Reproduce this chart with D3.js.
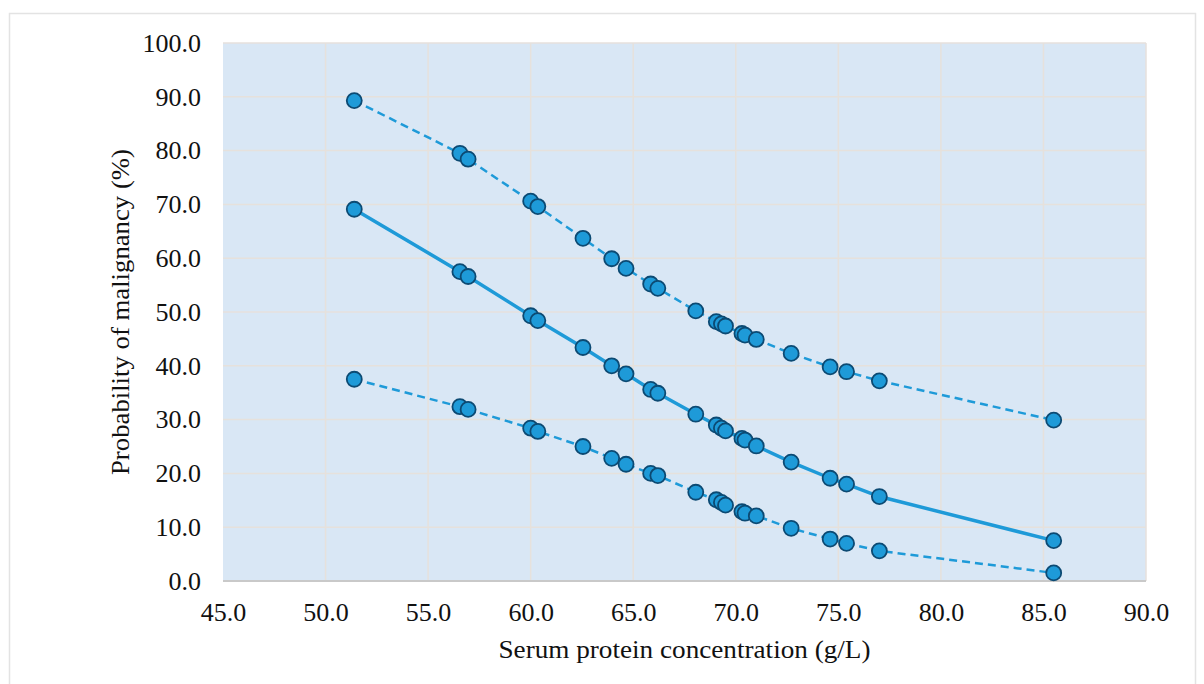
<!DOCTYPE html>
<html>
<head>
<meta charset="utf-8">
<script src="https://cdn.jsdelivr.net/npm/d3@7"></script>
<style>
  body { margin: 0; background: #fff; }
  text { font-family: "Liberation Serif", "Times New Roman", serif; fill: #111; }
</style>
</head>
<body>
<svg id="chart"></svg>
<script>
// serum protein (g/L) for each patient point
const protein = [51.4, 56.55, 56.95, 60.0, 60.35, 62.55, 63.95, 64.65, 65.85, 66.2, 68.05,
  69.05, 69.3, 69.5, 70.3, 70.45, 71.0, 72.7, 74.6, 75.4, 77.0, 85.5];
// predicted probability and 95% band
const upperCI = [89.3, 79.5, 78.4, 70.6, 69.6, 63.7, 59.9, 58.1, 55.2, 54.4, 50.2,
  48.2, 47.8, 47.4, 46.0, 45.7, 44.9, 42.3, 39.8, 38.9, 37.2, 29.9];
const predicted = [69.1, 57.5, 56.6, 49.3, 48.4, 43.4, 40.0, 38.5, 35.6, 34.9, 31.0,
  29.0, 28.4, 27.9, 26.5, 26.2, 25.1, 22.1, 19.1, 18.0, 15.7, 7.5];
const lowerCI = [37.5, 32.4, 31.9, 28.4, 27.8, 25.0, 22.8, 21.7, 20.0, 19.6, 16.5,
  15.1, 14.6, 14.1, 12.9, 12.6, 12.1, 9.8, 7.8, 7.0, 5.6, 1.5];
const xTicks = [45, 50, 55, 60, 65, 70, 75, 80, 85, 90];
const yTicks = [0, 10, 20, 30, 40, 50, 60, 70, 80, 90, 100];

const W = 1204, H = 684;
const margin = { top: 43, right: 58, bottom: 103, left: 223 };
const width = W - margin.left - margin.right;
const height = H - margin.top - margin.bottom;
const fs = 26;

const svg = d3.select("#chart").attr("width", W).attr("height", H);

// outer frame
svg.append("rect")
  .attr("x", 9.5).attr("y", 13.5).attr("width", 1186).attr("height", 700)
  .attr("fill", "none").attr("stroke", "#e3e3e3").attr("stroke-width", 1.5);

const g = svg.append("g").attr("transform", "translate(" + margin.left + "," + margin.top + ")");

const x = d3.scaleLinear().domain([45, 90]).range([0, width]);
const y = d3.scaleLinear().domain([0, 100]).range([height, 0]);

g.append("rect").attr("width", width).attr("height", height).attr("fill", "#d9e7f5");

// gridlines
g.append("g").selectAll("line").data(xTicks.slice(1)).enter().append("line")
  .attr("x1", d => x(d)).attr("x2", d => x(d)).attr("y1", 0).attr("y2", height)
  .attr("stroke", "#e6e1dc").attr("stroke-width", 1.5);
g.append("g").selectAll("line").data(yTicks.slice(1)).enter().append("line")
  .attr("x1", 0).attr("x2", width).attr("y1", d => y(d)).attr("y2", d => y(d))
  .attr("stroke", "#e6e1dc").attr("stroke-width", 1.5);

// bottom axis line
g.append("line").attr("x1", 0).attr("x2", width).attr("y1", height).attr("y2", height)
  .attr("stroke", "#c9c9c9").attr("stroke-width", 2);

// axes (labels only)
const xAxis = g.append("g").attr("transform", "translate(0," + height + ")")
  .call(d3.axisBottom(x).tickValues(xTicks).tickFormat(d3.format(".1f")).tickSize(0).tickPadding(22));
const yAxis = g.append("g")
  .call(d3.axisLeft(y).tickValues(yTicks).tickFormat(d3.format(".1f")).tickSize(0).tickPadding(22));
[xAxis, yAxis].forEach(a => {
  a.select(".domain").remove();
  a.attr("font-size", null).attr("font-family", null);
  a.selectAll("text").attr("font-size", fs).attr("fill", "#111");
});

const pts = (arr) => protein.map((p, i) => [p, arr[i]]);
const line = d3.line().x(d => x(d[0])).y(d => y(d[1]));
const blue = "#1e9ad8";

const series = [
  { data: upperCI, dash: "8,5", w: 2.5 },
  { data: predicted, dash: null, w: 3.5 },
  { data: lowerCI, dash: "8,5", w: 2.5 }
];

series.forEach(s => {
  g.append("path").datum(pts(s.data))
    .attr("d", line).attr("fill", "none").attr("stroke", blue)
    .attr("stroke-width", s.w).attr("stroke-dasharray", s.dash);
});
series.forEach(s => {
  g.append("g").selectAll("circle").data(pts(s.data)).enter().append("circle")
    .attr("cx", d => x(d[0])).attr("cy", d => y(d[1])).attr("r", 7.5)
    .attr("fill", blue).attr("stroke", "#0c4a73").attr("stroke-width", 1.8);
});

// titles
svg.append("text")
  .attr("x", margin.left + width / 2).attr("y", 658)
  .attr("text-anchor", "middle").attr("font-size", fs)
  .attr("textLength", 372).attr("lengthAdjust", "spacingAndGlyphs")
  .text("Serum protein concentration (g/L)");
svg.append("text")
  .attr("transform", "translate(129," + (margin.top + height / 2) + ") rotate(-90)")
  .attr("text-anchor", "middle").attr("font-size", fs)
  .attr("textLength", 326).attr("lengthAdjust", "spacingAndGlyphs")
  .text("Probability of malignancy (%)");
</script>
</body>
</html>
